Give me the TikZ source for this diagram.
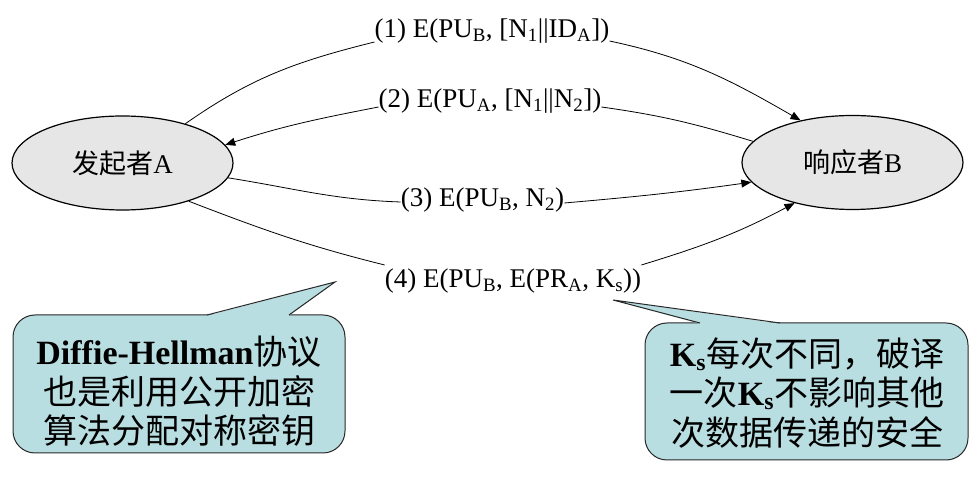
\documentclass[tikz,border=0pt]{standalone}
\usepackage{fontspec}
\setmainfont{Liberation Serif}
\newfontfamily\cjk{Noto Sans CJK SC}
\usetikzlibrary{arrows.meta,shapes.geometric}
\definecolor{ellfill}{RGB}{230,230,230}
\definecolor{callfill}{RGB}{185,222,225}
\definecolor{callline}{RGB}{40,40,40}
\begin{document}
\begin{tikzpicture}[x=1pt,y=1pt,
  party/.style={ellipse, draw, line width=1.2pt, fill=ellfill, minimum width=221pt, minimum height=94pt, inner sep=0pt, font=\fontsize{27}{32}\selectfont},
  msg/.style={anchor=base, inner sep=0pt, font=\fontsize{27}{32}\selectfont},
  link/.style={line width=0.8pt},
  arr/.style={link, -{Triangle[length=10pt,width=8pt]}},
  bubble/.style={fill=callfill, draw=callline, line width=1pt, rounded corners=22pt},
  tail/.style={fill=callfill},
  tailline/.style={draw=callline, line width=1pt},
  note/.style={align=center, inner sep=0pt, font=\fontsize{34}{39.5}\selectfont}
]
\useasboundingbox (0,0) rectangle (980,479);
\node[party] (A) at (122.5,316) {{\cjk 发起者}A};
\node[party] (B) at (852.5,316.5) {{\cjk 响应者}B};
\node[msg] (L1) at (492,441) {(1) E(PU\textsubscript{B}, [N\textsubscript{1}||ID\textsubscript{A}])};
\node[msg] (L2) at (490,371) {(2) E(PU\textsubscript{A}, [N\textsubscript{1}||N\textsubscript{2}])};
\node[msg] (L3) at (482.5,272) {(3) E(PU\textsubscript{B}, N\textsubscript{2})};
\node[msg] (L4) at (513,191) {(4) E(PU\textsubscript{B}, E(PR\textsubscript{A}, K\textsubscript{s}))};

\draw[link] (A.32) to[out=35,in=194] ([yshift=-4pt]L1.base west);
\draw[arr] ([yshift=-3pt]L1.base east) to[out=-12,in=150] (B.141);
\draw[link] (B.168) to[out=163,in=-8] ([yshift=1pt]L2.base east);
\draw[arr] ([yshift=1pt]L2.base west) to[out=191,in=18] (A.10);
\draw[link] (A.-8) to[out=-9,in=178] ([yshift=5pt]L3.base west);
\draw[arr] ([yshift=4pt]L3.base east) to[out=5,in=188] (B.191);
\draw[link] (A.-30) to[out=-21,in=166] ([yshift=23pt]L4.base west);
\draw[arr] ([yshift=23pt]L4.base east) to[out=17,in=208] (B.215);

\draw[bubble] (13,26) rectangle (345,164);
\fill[tail] (207,163.2) -- (335,197) -- (289,163.2) -- cycle;
\draw[tailline] (207,164) -- (335,197) -- (289,164);
\node[note] (N1) at (179,87.5) {\textbf{Diffie-Hellman}{\cjk 协议}\\{\cjk 也是利用公开加密}\\{\cjk 算法分配对称密钥}};

\draw[bubble] (645,19) rectangle (968,156);
\fill[tail] (700,155.2) -- (613,179) -- (780,155.2) -- cycle;
\draw[tailline] (700,156) -- (613,179) -- (780,156);
\node[note] (N2) at (807,86) {\textbf{K\textsubscript{s}}{\cjk 每次不同，破译}\\{\cjk 一次}\textbf{K\textsubscript{s}}{\cjk 不影响其他}\\{\cjk 次数据传递的安全}};
\end{tikzpicture}
\end{document}
